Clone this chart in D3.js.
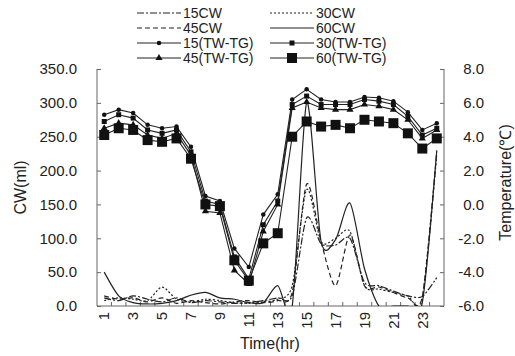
<!DOCTYPE html>
<html>
<head>
<meta charset="utf-8">
<script src="https://cdn.jsdelivr.net/npm/d3@7"></script>
<style>
  body { margin: 0; background: #fff; }
  text { font-family: "Liberation Sans", Arial, sans-serif; fill: #222; }
</style>
</head>
<body>
<div id="chart"></div>
<script>
// hours 1..24
const hours = d3.range(1, 25);
const xTickLabels = [1, 3, 5, 7, 9, 11, 13, 15, 17, 19, 21, 23];
const cwTicks = [0, 50, 100, 150, 200, 250, 300, 350];
const tempTicks = [-6, -4, -2, 0, 2, 4, 6, 8];

// CW (ml), left axis
const cw15 = [12, 8, 15, 10, 6, 12, 5, 8, 6, 4, 5, 8, 12, 15, 130, 92, 90, 100, 35, 30, 22, 15, 14, 42];
const cw30 = [8, 12, 10, 8, 28, 10, 6, 10, 8, 5, 4, 6, 10, 30, 172, 95, 100, 110, 30, 25, 20, 15, 10, 225];
const cw45 = [15, 10, 12, 6, 12, 4, 8, 5, 3, 6, 8, 5, 8, 20, 180, 95, 30, 105, 30, 28, 20, 12, 14, 228];
const cw60 = [50, 15, 5, 3, 4, 8, 16, 20, 12, 10, 5, 5, 30, 0, 300, 95, 98, 152, 55, 0, 0, 0, 5, 230];

// TW-TG (°C), right axis
const tg15 = [5.3, 5.6, 5.4, 4.7, 4.5, 4.6, 3.4, 0.5, 0.2, -2.6, -3.7, -0.6, 0.6, 6.2, 6.8, 6.2, 6.05, 6.05, 6.35, 6.3, 6.1, 5.45, 4.4, 4.8];
const tg30 = [4.9, 5.3, 5.1, 4.4, 4.2, 4.4, 3.1, 0.2, 0.0, -3.1, -4.4, -1.2, 0.2, 5.9, 6.4, 5.9, 5.9, 5.9, 6.2, 6.1, 5.9, 5.2, 4.1, 4.5];
const tg45 = [4.5, 4.8, 4.7, 4.1, 3.9, 4.2, 2.9, -0.4, -0.5, -3.9, -4.7, -1.6, 0.0, 5.7, 6.05, 5.7, 5.6, 5.6, 5.9, 5.8, 5.6, 5.0, 3.9, 4.4];
const tg60 = [4.1, 4.5, 4.4, 3.8, 3.7, 3.9, 2.7, 0.0, -0.1, -3.3, -4.5, -2.3, -1.7, 4.0, 4.9, 4.6, 4.7, 4.5, 5.0, 4.9, 4.8, 4.2, 3.3, 3.9];

const cwSeries = [
  { name: '15CW', values: cw15, dash: '7,2,2,2' },
  { name: '30CW', values: cw30, dash: '2,2' },
  { name: '45CW', values: cw45, dash: '5,3' },
  { name: '60CW', values: cw60, dash: null }
];
const tgSeries = [
  { name: '15(TW-TG)', values: tg15, marker: 'dot', size: 4.5 },
  { name: '30(TW-TG)', values: tg30, marker: 'square', size: 5 },
  { name: '45(TW-TG)', values: tg45, marker: 'triangle', size: 7 },
  { name: '60(TW-TG)', values: tg60, marker: 'bigsquare', size: 10 }
];

const width = 515, height = 356;
const plot = { left: 97, right: 444, top: 69, bottom: 306 };

const svg = d3.select('#chart').append('svg')
  .attr('width', width)
  .attr('height', height);

const x = d3.scalePoint().domain(hours).range([plot.left, plot.right]).padding(0.5);
const yL = d3.scaleLinear().domain([0, 350]).range([plot.bottom, plot.top]);
const yR = d3.scaleLinear().domain([-6, 8]).range([plot.bottom, plot.top]);

svg.append('clipPath').attr('id', 'clip')
  .append('rect')
  .attr('x', plot.left).attr('y', plot.top)
  .attr('width', plot.right - plot.left).attr('height', plot.bottom - plot.top);

// axes
const axisColor = '#666';
const leftAxis = svg.append('g')
  .attr('transform', `translate(${plot.left},0)`)
  .call(d3.axisRight(yL).tickValues(cwTicks).tickSize(4).tickFormat(''));
const rightAxis = svg.append('g')
  .attr('transform', `translate(${plot.right},0)`)
  .call(d3.axisLeft(yR).tickValues(tempTicks).tickSize(4).tickFormat(''));
[leftAxis, rightAxis].forEach(g => {
  g.select('.domain').remove();
  g.selectAll('line').attr('stroke', axisColor);
});
svg.append('line')
  .attr('x1', plot.left).attr('x2', plot.left)
  .attr('y1', plot.top).attr('y2', plot.bottom)
  .attr('stroke', axisColor);
svg.append('line')
  .attr('x1', plot.right).attr('x2', plot.right)
  .attr('y1', plot.top).attr('y2', plot.bottom)
  .attr('stroke', axisColor);
svg.append('line')
  .attr('x1', plot.left).attr('x2', plot.right)
  .attr('y1', plot.bottom).attr('y2', plot.bottom)
  .attr('stroke', axisColor);

// bottom tick marks between categories
const step = x.step();
svg.append('g').selectAll('line')
  .data(hours.slice(0, -1))
  .join('line')
  .attr('x1', d => x(d) + step / 2).attr('x2', d => x(d) + step / 2)
  .attr('y1', plot.bottom).attr('y2', plot.bottom - 4)
  .attr('stroke', axisColor);

// tick labels
svg.append('g').selectAll('text')
  .data(cwTicks)
  .join('text')
  .attr('x', 77).attr('y', d => yL(d))
  .attr('dy', '0.35em')
  .attr('text-anchor', 'end')
  .style('font-size', '15px')
  .text(d => d.toFixed(1));

svg.append('g').selectAll('text')
  .data(tempTicks)
  .join('text')
  .attr('x', 484).attr('y', d => yR(d))
  .attr('dy', '0.35em')
  .attr('text-anchor', 'end')
  .style('font-size', '15px')
  .text(d => d.toFixed(1));

svg.append('g').selectAll('text')
  .data(xTickLabels)
  .join('text')
  .attr('transform', d => `translate(${x(d)},${plot.bottom + 6}) rotate(-90)`)
  .attr('dy', '0.35em')
  .attr('text-anchor', 'end')
  .style('font-size', '15px')
  .text(d => d);

// axis titles
svg.append('text')
  .attr('x', 270).attr('y', 349)
  .attr('text-anchor', 'middle')
  .style('font-size', '16px')
  .text('Time(hr)');
svg.append('text')
  .attr('transform', `translate(26,${(plot.top + plot.bottom) / 2}) rotate(-90)`)
  .attr('text-anchor', 'middle')
  .style('font-size', '16px')
  .text('CW(ml)');
svg.append('text')
  .attr('transform', `translate(505,${(plot.top + plot.bottom) / 2 - 5}) rotate(-90)`)
  .attr('text-anchor', 'middle')
  .attr('dy', '0.35em')
  .style('font-size', '16px')
  .text('Temperature(\u2103)');

// CW curves (smoothed)
const cwLine = d3.line()
  .x((d, i) => x(hours[i]))
  .y(d => yL(d))
  .curve(d3.curveCardinal.tension(0.2));

svg.append('g').attr('clip-path', 'url(#clip)')
  .selectAll('path')
  .data(cwSeries)
  .join('path')
  .attr('d', d => cwLine(d.values))
  .attr('fill', 'none')
  .attr('stroke', '#222')
  .attr('stroke-width', 1.2)
  .attr('stroke-dasharray', d => d.dash);

// TW-TG lines with markers
const tgLine = d3.line()
  .x((d, i) => x(hours[i]))
  .y(d => yR(d));

function drawMarker(g, type, size) {
  if (type === 'triangle') {
    g.append('path').attr('d', d3.symbol(d3.symbolTriangle, size * size * 0.45)()).attr('fill', '#111');
  } else if (type === 'dot') {
    g.append('circle').attr('r', size / 2).attr('fill', '#111');
  } else {
    g.append('rect')
      .attr('x', -size / 2).attr('y', -size / 2)
      .attr('width', size).attr('height', size)
      .attr('fill', '#111');
  }
}

tgSeries.forEach(s => {
  svg.append('path')
    .attr('d', tgLine(s.values))
    .attr('fill', 'none')
    .attr('stroke', '#222')
    .attr('stroke-width', 1.1);
  s.values.forEach((v, i) => {
    const g = svg.append('g').attr('transform', `translate(${x(hours[i])},${yR(v)})`);
    drawMarker(g, s.marker, s.size);
  });
});

// legend
const legendItems = [
  { label: '15CW', dash: '7,2,2,2', marker: null },
  { label: '30CW', dash: '2,2', marker: null },
  { label: '45CW', dash: '5,3', marker: null },
  { label: '60CW', dash: null, marker: null },
  { label: '15(TW-TG)', dash: null, marker: 'dot', size: 4.5 },
  { label: '30(TW-TG)', dash: null, marker: 'square', size: 5 },
  { label: '45(TW-TG)', dash: null, marker: 'triangle', size: 7 },
  { label: '60(TW-TG)', dash: null, marker: 'bigsquare', size: 10 }
];
const colX = [137, 270];
const rowY = [13, 28, 43, 58];
legendItems.forEach((d, i) => {
  const lx = colX[i % 2], ly = rowY[Math.floor(i / 2)];
  const g = svg.append('g').attr('transform', `translate(${lx},${ly})`);
  g.append('line')
    .attr('x1', 0).attr('x2', 44)
    .attr('stroke', '#222')
    .attr('stroke-width', 1.2)
    .attr('stroke-dasharray', d.dash);
  if (d.marker) {
    const m = g.append('g').attr('transform', 'translate(22,0)');
    drawMarker(m, d.marker, d.size);
  }
  g.append('text')
    .attr('x', 46).attr('dy', '0.35em')
    .style('font-size', '14px')
    .text(d.label);
});
</script>
</body>
</html>
